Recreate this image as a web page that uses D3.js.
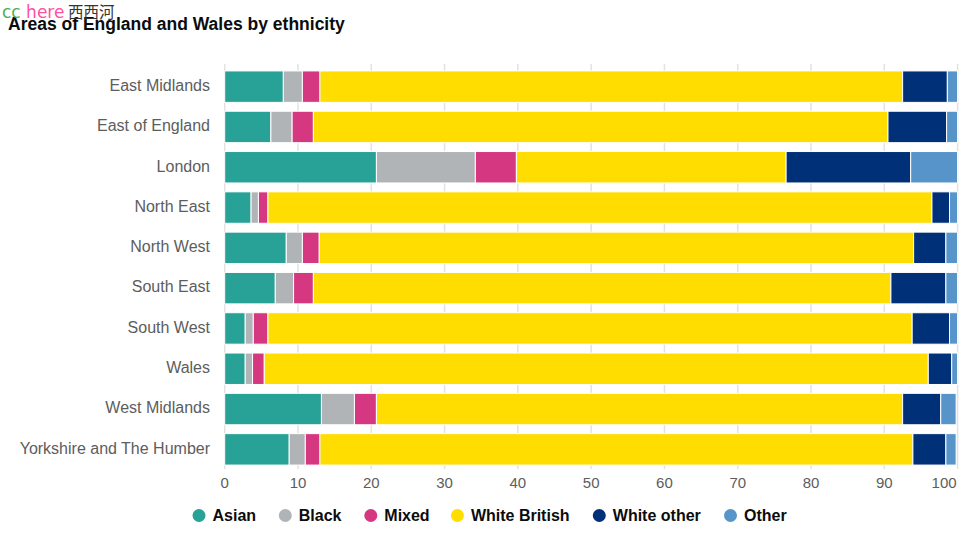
<!DOCTYPE html>
<html><head><meta charset="utf-8">
<script src="https://cdn.jsdelivr.net/npm/d3@7"></script>
<style>
html,body{margin:0;padding:0;background:#fff;}
svg{display:block;font-family:"Liberation Sans",Arial,sans-serif;}
</style></head>
<body>
<svg id="chart" width="969" height="538"></svg>
<script>
const regions = ["East Midlands","East of England","London","North East","North West","South East","South West","Wales","West Midlands","Yorkshire and The Humber"];
const seriesNames = ["Asian","Black","Mixed","White British","White other","Other"];
const asian        = [8.0, 6.3, 20.7, 3.6, 8.4, 6.9, 2.8, 2.8, 13.2, 8.8];
const black        = [2.6, 2.9, 13.5, 1.0, 2.2, 2.5, 1.1, 1.0, 4.5, 2.2];
const mixed        = [2.4, 2.9, 5.6, 1.3, 2.3, 2.7, 2.0, 1.6, 3.0, 2.0];
const whiteBritish = [79.5, 78.4, 36.8, 90.6, 81.1, 78.8, 87.9, 90.6, 71.8, 80.9];
const whiteOther   = [6.1, 8.0, 17.0, 2.4, 4.4, 7.5, 5.1, 3.2, 5.2, 4.5];
const other        = [1.4, 1.5, 6.4, 1.1, 1.6, 1.6, 1.1, 0.8, 2.1, 1.4];
const xTicks = [0,10,20,30,40,50,60,70,80,90,100];
const colors = ["#28a197","#b1b4b6","#d53880","#ffdd00","#003078","#5694ca"];

const seriesVals = [asian, black, mixed, whiteBritish, whiteOther, other];
const rows = regions.map((r,i)=>{
  const o = {region:r};
  seriesNames.forEach((s,j)=>o[s]=seriesVals[j][i]);
  return o;
});
const stack = d3.stack().keys(seriesNames)(rows);

const svg = d3.select("#chart");
const x = d3.scaleLinear().domain([0,100]).range([224.7,957.6]);
const y = d3.scaleBand().domain(regions).range([66.5,469.5]).paddingInner(0.22).paddingOuter(0.11);
const color = d3.scaleOrdinal().domain(seriesNames).range(colors);

// title
svg.append("text").attr("x",8).attr("y",30).text("Areas of England and Wales by ethnicity")
  .style("font-weight","bold").style("font-size","17.5px").attr("fill","#0b0c0c");

// watermark
const wm = svg.append("text").attr("x",2).attr("y",18).style("font-size","17px").style("font-family","'DejaVu Sans','Noto Sans CJK SC',sans-serif");
wm.append("tspan").text("cc").attr("fill","#4caf50");
wm.append("tspan").text(" here").attr("fill","#ff4fa0");
wm.append("tspan").text(" 西西河").attr("fill","#333").style("font-family","'Noto Sans CJK SC',sans-serif").style("font-size","15.5px");

// gridlines
svg.append("g").selectAll("line").data(xTicks).join("line")
  .attr("x1",d=>x(d)).attr("x2",d=>x(d)).attr("y1",64).attr("y2",469)
  .attr("stroke","#e2e2e2").attr("stroke-width",1.5);

// x tick labels
svg.append("g").selectAll("text").data(xTicks).join("text")
  .attr("x",d=>d===100? x(d)-1 : x(d)).attr("y",488)
  .attr("text-anchor",d=>d===100?"end":"middle")
  .style("font-size","15px").attr("fill","#5d5d5d").text(d=>d);

// bars
svg.append("g").selectAll("g").data(stack).join("g")
  .attr("fill",d=>color(d.key))
  .selectAll("rect").data(d=>d).join("rect")
  .attr("x",d=>x(d[0])).attr("width",d=>x(d[1])-x(d[0]))
  .attr("y",d=>y(d.data.region)).attr("height",y.bandwidth())
  .attr("stroke","#fff").attr("stroke-width",1);

// category labels
svg.append("g").selectAll("text").data(regions).join("text")
  .attr("x",210).attr("y",d=>y(d)+y.bandwidth()/2).attr("dy","0.27em")
  .attr("text-anchor","end").style("font-size","16px").attr("fill","#5d5d5d").text(d=>d);

// legend
const legendX = [199,285.3,370.8,457.4,599.3,730.5];
const lg = svg.append("g").selectAll("g").data(seriesNames).join("g")
  .attr("transform",(d,i)=>`translate(${legendX[i]},515.5)`);
lg.append("circle").attr("r",6.5).attr("fill",d=>color(d));
lg.append("text").attr("x",13.5).attr("y",5.5).style("font-size","16px").style("font-weight","bold")
  .attr("fill","#0b0c0c").text(d=>d);
</script>
</body></html>
